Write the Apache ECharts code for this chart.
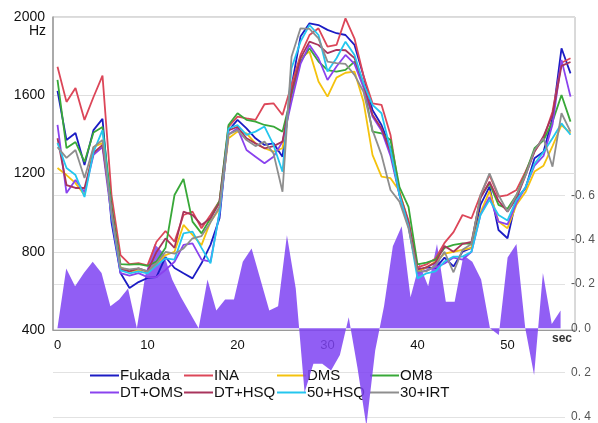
<!DOCTYPE html>
<html>
<head>
<meta charset="utf-8">
<script src="https://cdn.jsdelivr.net/npm/echarts@6/dist/echarts.min.js"></script>
<style>
  html, body { margin: 0; padding: 0; background: #fff; }
  #chart { width: 598px; height: 423px; }
</style>
</head>
<body>
<div id="chart"></div>
<script>
// time axis (seconds)
const seconds = Array.from({ length: 58 }, (_, i) => i);

// left axis ticks (Hz)
const hzTicks = [400, 800, 1200, 1600, 2000];

// pitch tracks (Hz)
const fukada = [1622,1371,1407,1243,1422,1479, 950, 691, 615, 645, 666, 671, 773, 717, 690, 664, 741, 835, 971,1420,
                1474,1431,1380,1346,1354,1286,1644,1900,1968,1959,1934,1917,1908,1857,1700,1525,1448,1329,1090, 940,
                 700, 720, 716, 770, 725, 800, 820,1040,1133, 911, 869,1073,1124,1278,1311,1482,1840,1712];
const ina    = [1746,1566,1637,1474,1591,1700,1090, 783, 737, 742, 730, 851, 906, 851, 988,1005, 920, 988,1060,1440,
                1491,1482,1474,1554,1559,1499,1652,1806,1908,1942,1849,1857,1993,1890,1700,1559,1551,1397,1100, 960,
                 720, 735, 766, 845, 900, 988, 971,1090,1193,1082,1090,1116,1209,1312,1380,1516,1766,1789];
const dms    = [1228,1192,1151,1090,1335,1356,1000, 720, 700, 705, 700, 740, 783, 800, 937, 886, 834, 954,1020,1380,
                1414,1405,1354,1329,1312,1329,1620,1790,1823,1670,1593,1690,1715,1721,1567,1295,1184,1176,1110, 940,
                 700, 720, 750, 790, 800, 809, 820,1000,1110, 954, 920,1040,1105,1210,1240,1340,1448,1405];
const om8    = [1678,1330,1361,1259,1410,1438,1040, 737, 734, 737, 728, 750, 820,1090,1172, 954, 894, 971,1060,1448,
                1508,1474,1465,1448,1440,1414,1600,1772,1840,1772,1729,1721,1730,1772,1650,1414,1405,1371,1130,1030,
                 736, 745, 760, 820, 835, 843, 840,1080,1150,1040,1020,1090,1200,1329,1370,1465,1601,1465];
const dtOms  = [1448,1100,1167,1105,1295,1335, 980, 691, 678, 691, 670, 671, 707, 749, 835, 843, 760, 749,1000,1400,
                1431,1320,1286,1252,1286,1363,1567,1760,1857,1789,1678,1747,1806,1760,1640,1491,1420,1290,1090, 930,
                 690, 705, 720, 740, 770, 760, 800, 990,1080, 954, 940,1050,1130,1240,1290,1450,1781,1593];
const dtHsq  = [1380,1141,1126,1126,1305,1346,1020, 710, 700, 715, 700, 799, 868, 820,1005, 988, 937, 971,1050,1420,
                1439,1380,1354,1329,1340,1363,1620,1790,1874,1857,1815,1832,1830,1790,1660,1500,1430,1310,1100, 950,
                 710, 720, 745, 830, 800, 840, 850,1075,1158,1060,1005,1073,1190,1312,1390,1500,1750,1770];
const hsq50  = [1356,1228,1192,1080,1310,1422, 990, 705, 690, 700, 690, 730, 766, 760, 894, 903, 820, 741,1000,1430,
                1448,1397,1414,1440,1346,1209,1738,1874,1959,1908,1721,1789,1874,1806,1660,1551,1508,1320,1090, 930,
                 664, 690, 700, 750, 775, 775, 800, 988,1065, 988, 960,1065,1130,1250,1310,1380,1456,1398];
const irt30  = [1335,1280,1320,1177,1335,1371,1000, 717, 710, 715, 700, 740, 799, 790, 817, 869, 880, 950,1030,1400,
                1422,1371,1340,1363,1303,1107,1797,1942,1939,1891,1772,1764,1760,1704,1618,1422,1295,1116,1056, 920,
                 700, 700, 730, 800, 695, 810, 840,1090,1201,1090,1005,1090,1190,1320,1380,1235,1508,1414];

// filled trace on the right (inverted) axis
const diffTrace = [0.00,-0.27,-0.19,-0.25,-0.30,-0.25,-0.10,-0.13,-0.18, 0.00,-0.25,-0.38,-0.34,-0.22,-0.14,-0.07, 0.00,-0.22,-0.08,-0.13,
                  -0.13,-0.30,-0.36,-0.22,-0.08,-0.10,-0.42,-0.18, 0.29, 0.16, 0.16, 0.19, 0.12,-0.05, 0.18, 0.44, 0.10,-0.10,-0.37,-0.46,
                  -0.14,-0.29,-0.19,-0.38,-0.12,-0.12,-0.33,-0.30,-0.22, 0.00, 0.03,-0.32,-0.38, 0.00, 0.21,-0.25,-0.02,-0.08];

const seriesNames  = ['Fukada', 'INA', 'DMS', 'OM8', 'DT+OMS', 'DT+HSQ', '50+HSQ', '30+IRT'];
const seriesValues = [fukada, ina, dms, om8, dtOms, dtHsq, hsq50, irt30];
const seriesColors = ['#1c1cc4', '#dc4658', '#f4c20d', '#38a838', '#8a42ee', '#a8345c', '#24c6ee', '#8e8e8e'];

const legendFont = '"Liberation Sans", Arial, sans-serif';
const axisFont = '"Liberation Sans", Arial, sans-serif';

const chart = echarts.init(document.getElementById('chart'), null, { renderer: 'canvas' });

const lineSeries = seriesNames.map((name, k) => ({
  name,
  type: 'line',
  xAxisIndex: 0,
  yAxisIndex: 0,
  data: seriesValues[k],
  showSymbol: false,
  symbol: 'none',
  lineStyle: { width: 1.8, color: seriesColors[k] },
  itemStyle: { color: seriesColors[k] },
  z: 6,
  animation: false
}));

// four legend columns, two entries each
const legendCols = [90, 184, 277, 370].map((left, c) => ({
  orient: 'vertical',
  left,
  top: 368,
  padding: 0,
  itemGap: 2,
  itemWidth: 29,
  itemHeight: 2,
  icon: 'rect',
  z: 1,
  data: [seriesNames[c], seriesNames[c + 4]],
  textStyle: { fontFamily: legendFont, fontSize: 15, color: '#111', padding: [0, 0, 0, -4] }
}));

const rightSplitColors = ['rgba(0,0,0,0)', 'rgba(0,0,0,0)', 'rgba(0,0,0,0)', 'rgba(0,0,0,0)',
                          '#e2e2e2', '#e2e2e2', '#e2e2e2', 'rgba(0,0,0,0)', '#e2e2e2', '#e2e2e2'];

chart.setOption({
  backgroundColor: '#fff',
  animation: false,
  legend: legendCols,
  grid: [
    { left: 53, right: 23, top: 17, bottom: 93, show: true, borderColor: '#b4b4b4', borderWidth: 1, backgroundColor: 'transparent' },
    { left: 53, right: 23, top: 18, bottom: 3 }
  ],
  xAxis: [
    {
      type: 'category', gridIndex: 0, data: seconds, boundaryGap: true,
      axisLine: { show: true, lineStyle: { color: '#9a9a9a' } },
      axisTick: { show: false },
      splitLine: { show: false },
      axisLabel: {
        interval: (idx) => idx % 10 === 0 && idx <= 50,
        margin: 9, fontFamily: axisFont, fontSize: 13, color: '#111'
      }
    },
    {
      type: 'category', gridIndex: 1, data: seconds, boundaryGap: true,
      show: false
    }
  ],
  yAxis: [
    {
      type: 'value', gridIndex: 0, min: hzTicks[0], max: hzTicks[hzTicks.length - 1], interval: 400,
      axisLine: { show: true, lineStyle: { color: '#9a9a9a', width: 1.5 } },
      axisTick: { show: false },
      splitLine: { show: true, lineStyle: { color: '#dedede' } },
      axisLabel: { margin: 8, fontFamily: axisFont, fontSize: 14, color: '#111', formatter: (v) => String(v) }
    },
    {
      type: 'value', gridIndex: 1, position: 'right', inverse: true,
      min: -1.4, max: 0.4, interval: 0.2,
      axisLine: { show: false },
      axisTick: { show: false },
      splitLine: { show: true, lineStyle: { color: rightSplitColors } },
      axisLabel: {
        margin: 6, fontFamily: axisFont, fontSize: 12, color: '#555',
        formatter: (v) => (v < -0.65 ? '' : v.toFixed(1).replace('.', '. '))
      }
    }
  ],
  graphic: [
    { type: 'text', left: 29, top: 24, style: { text: 'Hz', fontFamily: axisFont, fontSize: 14, fill: '#111' } },
    { type: 'text', left: 552, top: 333, style: { text: 'sec', fontFamily: axisFont, fontSize: 12, fontWeight: 'bold', fill: '#333' } }
  ],
  series: [
    {
      name: 'diff',
      type: 'line',
      xAxisIndex: 1,
      yAxisIndex: 1,
      data: diffTrace,
      showSymbol: false,
      symbol: 'none',
      clip: false,
      lineStyle: { width: 0 },
      areaStyle: { color: '#7e42f2', opacity: 0.85 },
      itemStyle: { color: '#7e42f2' },
      z: 5,
      animation: false
    },
    ...lineSeries
  ]
});
</script>
</body>
</html>
